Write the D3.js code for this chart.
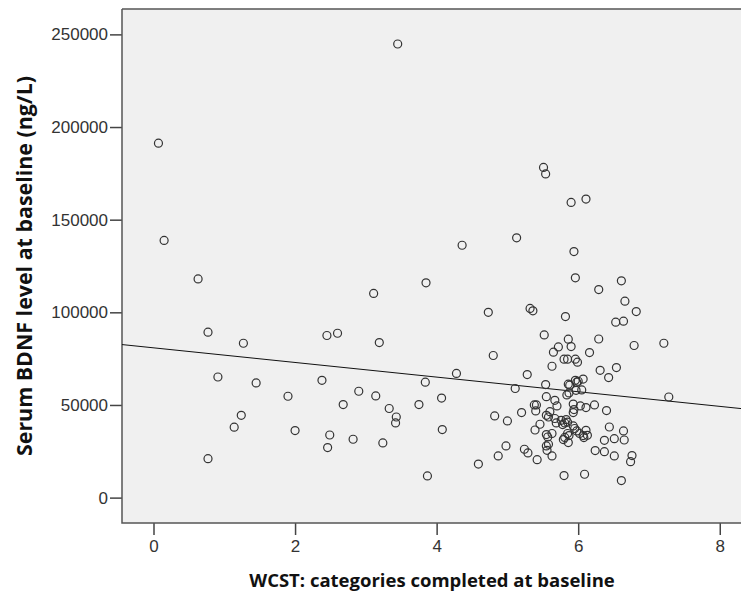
<!DOCTYPE html>
<html>
<head>
<meta charset="utf-8">
<script src="https://cdn.jsdelivr.net/npm/d3@7"></script>
<style>
    body { margin: 0; background: #fff; }
    .tick text { font-family: "Liberation Sans", Arial, sans-serif; font-size: 17px; fill: #333; }
    .axis-title { font-family: "Open Sans", sans-serif; font-weight: bold; font-size: 18.5px; fill: #111; }
    .axis-title.y-title { font-size: 21.4px; }
</style>
</head>
<body>
<svg id="chart" width="742" height="601"></svg>
<script>
// WCST categories completed (x) vs serum BDNF (y)
const wcst = [
    0.07, 0.15, 0.63, 3.45, 3.11, 3.85, 0.77, 2.45, 2.60, 1.27,
    3.19, 0.91, 1.45, 2.38, 3.84, 1.90, 2.90, 3.14, 2.68, 3.75,
    4.07, 1.24, 1.14, 3.33, 3.43, 3.42, 2.00, 2.49, 2.46, 2.82,
    3.24, 4.08, 0.77, 3.87, 5.51, 5.54, 5.90, 6.11, 4.36, 5.13,
    5.94, 5.96, 6.29, 6.61, 6.66, 6.82, 4.73, 5.32, 5.36, 5.82,
    6.53, 6.64, 5.52, 5.86, 6.29, 5.72, 5.65, 5.90, 6.79, 7.21,
    6.16, 4.80, 5.80, 5.85, 5.96, 5.99, 5.63, 6.31, 6.54, 6.43,
    4.28, 5.28, 5.11, 5.54, 5.86, 5.96, 5.98, 6.07, 6.00, 6.05,
    5.97, 5.84, 5.87, 7.28, 5.55, 5.67, 5.70, 5.38, 5.41, 5.93,
    6.03, 6.11, 6.23, 6.40, 4.82, 5.00, 5.20, 5.40, 5.55, 5.58,
    5.60, 5.93, 5.94, 5.67, 5.69, 5.76, 5.81, 5.83, 5.78, 5.85,
    5.46, 5.39, 5.93, 5.95, 5.63, 5.55, 5.57, 5.85, 5.87, 5.81,
    5.79, 5.86, 5.98, 6.02, 6.07, 6.11, 6.13, 6.08, 6.44, 6.64,
    6.37, 6.51, 6.65, 4.98, 4.87, 5.24, 5.29, 5.42, 5.55, 5.56,
    5.58, 5.63, 6.24, 6.37, 6.51, 6.76, 6.74, 4.59, 5.80, 6.09,
    6.61, 5.88
];
const bdnf = [
    191300, 138800, 118000, 244800, 110200, 115900, 89300, 87500, 88700, 83300,
    83700, 65100, 61900, 63300, 62300, 54700, 57400, 54900, 50200, 50200,
    53700, 44400, 38000, 48100, 43500, 40300, 36200, 33800, 27000, 31500,
    29500, 36700, 21000, 11700, 178200, 174700, 159300, 161100, 136200, 140200,
    132800, 118600, 112300, 117000, 106000, 100400, 100000, 102100, 100800, 97700,
    94700, 95200, 87800, 85500, 85600, 81300, 78500, 81500, 82100, 83300,
    78300, 76700, 74700, 74700, 74700, 73100, 70900, 68700, 70200, 64800,
    67000, 66400, 58900, 61000, 61200, 63300, 62300, 64000, 62800, 58100,
    57900, 55400, 56500, 54300, 54500, 52500, 49500, 50000, 50000, 50500,
    49500, 48600, 50000, 47000, 44100, 41400, 45900, 46800, 44400, 43500,
    46400, 45900, 47500, 42700, 40300, 41700, 40300, 42100, 39400, 40700,
    39600, 36500, 38700, 37300, 34600, 34000, 32700, 34600, 33500, 32500,
    31300, 29700, 36000, 34600, 33500, 36300, 33600, 32400, 38100, 36000,
    30900, 31800, 31100, 27900, 22500, 26100, 24100, 20500, 27900, 25500,
    28800, 22500, 25400, 24800, 22500, 22700, 19400, 18100, 11900, 12600,
    9200, 60700
];

const xTicks = [0, 2, 4, 6, 8];
const yTicks = [0, 50000, 100000, 150000, 200000, 250000];

// linear fit line
const fitIntercept = 80840;
const fitSlope = -3950;

const xTitle = 'WCST: categories completed at baseline';
const yTitle = 'Serum BDNF level at baseline (ng/L)';

const plot = { left: 122, top: 9, right: 741, bottom: 523 };

const svg = d3.select('#chart');

const x = d3.scaleLinear()
    .domain([-0.445, 8.30])
    .range([plot.left, plot.right]);

const y = d3.scaleLinear()
    .domain([-13700, 263700])
    .range([plot.bottom, plot.top]);

// plot background
svg.append('rect')
    .attr('x', plot.left)
    .attr('y', plot.top)
    .attr('width', plot.right - plot.left)
    .attr('height', plot.bottom - plot.top)
    .attr('fill', '#f0f0f0');

// axes
const yAxis = svg.append('g')
    .attr('transform', `translate(${plot.left},0)`)
    .call(d3.axisLeft(y).tickValues(yTicks).tickSize(12).tickPadding(2).tickFormat(d3.format('d')));

const xAxis = svg.append('g')
    .attr('transform', `translate(0,${plot.bottom})`)
    .call(d3.axisBottom(x).tickValues(xTicks).tickSize(12).tickPadding(5).tickFormat(d3.format('d')));

[xAxis, yAxis].forEach(g => {
    g.select('.domain').remove();
    g.selectAll('.tick line').attr('stroke', '#444').attr('stroke-width', 1.5);
});

// frame
svg.append('path')
    .attr('d', `M${plot.left},${plot.top}H${plot.right}M${plot.left},${plot.top}V${plot.bottom}H${plot.right}`)
    .attr('fill', 'none')
    .attr('stroke', '#555')
    .attr('stroke-width', 1.5);

// clip for the fit line
svg.append('clipPath')
    .attr('id', 'plot-clip')
    .append('rect')
    .attr('x', plot.left)
    .attr('y', plot.top)
    .attr('width', plot.right - plot.left)
    .attr('height', plot.bottom - plot.top);

const [x0, x1] = x.domain();
svg.append('line')
    .attr('clip-path', 'url(#plot-clip)')
    .attr('x1', x(x0))
    .attr('y1', y(fitIntercept + fitSlope * x0))
    .attr('x2', x(x1))
    .attr('y2', y(fitIntercept + fitSlope * x1))
    .attr('stroke', '#111')
    .attr('stroke-width', 1);

// points
svg.append('g')
    .selectAll('circle')
    .data(wcst.map((v, i) => [v, bdnf[i]]))
    .join('circle')
    .attr('cx', d => x(d[0]))
    .attr('cy', d => y(d[1]))
    .attr('r', 4)
    .attr('fill', 'none')
    .attr('stroke', '#333')
    .attr('stroke-width', 1.2);

// axis titles
svg.append('text')
    .attr('class', 'axis-title')
    .attr('x', 432)
    .attr('y', 587)
    .attr('text-anchor', 'middle')
    .text(xTitle);

svg.append('text')
    .attr('class', 'axis-title y-title')
    .attr('transform', `translate(32,266) rotate(-90)`)
    .attr('text-anchor', 'middle')
    .text(yTitle);
</script>
</body>
</html>
